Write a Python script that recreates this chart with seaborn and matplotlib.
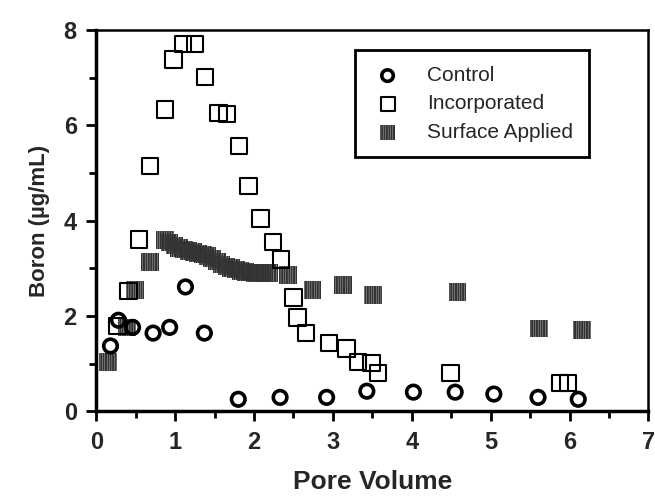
import matplotlib
matplotlib.use("Agg")
import matplotlib.pyplot as plt
import seaborn as sns
from matplotlib.ticker import MultipleLocator

# Data
control_x = [0.18, 0.28, 0.46, 0.72, 0.93, 1.13, 1.37, 1.80, 2.33, 2.92, 3.43, 4.02, 4.55, 5.04, 5.60, 6.11]
control_y = [1.37, 1.91, 1.76, 1.64, 1.76, 2.61, 1.64, 0.25, 0.29, 0.29, 0.42, 0.40, 0.40, 0.36, 0.29, 0.25]

incorporated_x = [0.27, 0.41, 0.54, 0.68, 0.87, 0.98, 1.10, 1.25, 1.38, 1.55, 1.66, 1.81, 1.93, 2.08,
                  2.24, 2.34, 2.50, 2.55, 2.66, 2.95, 3.17, 3.32, 3.49, 3.57, 4.49, 5.88, 5.98]
incorporated_y = [1.79, 2.52, 3.61, 5.15, 6.34, 7.39, 7.71, 7.71, 7.02, 6.26, 6.24, 5.57, 4.73, 4.05,
                  3.55, 3.19, 2.39, 1.97, 1.64, 1.43, 1.32, 1.03, 1.01, 0.80, 0.80, 0.59, 0.59]

surface_x = [0.15, 0.39, 0.49, 0.68,
             0.87, 0.93, 0.99, 1.05, 1.11, 1.17, 1.23, 1.29, 1.35, 1.41, 1.47, 1.53,
             1.59, 1.65, 1.71, 1.77, 1.83, 1.89, 1.95, 2.01, 2.07, 2.13, 2.19,
             2.43, 2.74, 3.13, 3.51, 4.58, 5.61, 6.16]
surface_y = [1.03, 1.76, 2.54, 3.13,
             3.59, 3.54, 3.48, 3.43, 3.40, 3.37, 3.34, 3.31, 3.29, 3.26, 3.21, 3.14,
             3.08, 3.04, 3.01, 2.98, 2.95, 2.92, 2.91, 2.90, 2.90, 2.90, 2.90,
             2.86, 2.54, 2.65, 2.44, 2.50, 1.74, 1.70]

sns.set_style("ticks")
plt.rcParams["font.family"] = ["Liberation Sans", "DejaVu Sans"]
plt.rcParams["hatch.linewidth"] = 1.5

fig = plt.figure(figsize=(6.55, 4.96), dpi=100)
ax = fig.add_axes([0.147, 0.171, 0.843, 0.768])

sns.scatterplot(x=control_x, y=control_y, ax=ax, marker="o", s=95,
                facecolor="none", edgecolor="black", linewidth=2.6, label="Control", zorder=4)
sns.scatterplot(x=incorporated_x, y=incorporated_y, ax=ax, marker="s", s=140,
                facecolor="none", edgecolor="black", linewidth=1.5, label="Incorporated", zorder=3)
sns.scatterplot(x=surface_x, y=surface_y, ax=ax, marker="s", s=160,
                facecolor="none", edgecolor="#333333", linewidth=0, hatch="|||||||",
                label="Surface Applied", zorder=2)

ax.set_xlim(0, 7)
ax.set_ylim(0, 8)
ax.xaxis.set_major_locator(MultipleLocator(1))
ax.xaxis.set_minor_locator(MultipleLocator(0.5))
ax.yaxis.set_major_locator(MultipleLocator(2))
ax.yaxis.set_minor_locator(MultipleLocator(1))
ax.tick_params(which="both", direction="out", width=2, color="black")
ax.tick_params(which="major", length=7, labelsize=17, pad=7)
ax.tick_params(which="minor", length=5)
for lab in ax.get_xticklabels() + ax.get_yticklabels():
    lab.set_fontweight("bold")

for side in ["left", "bottom"]:
    ax.spines[side].set_linewidth(2.5)
for side in ["top", "right"]:
    ax.spines[side].set_linewidth(1.8)
for sp in ax.spines.values():
    sp.set_color("black")

ax.set_xlabel("Pore Volume", fontsize=19, fontweight="bold", labelpad=12)
ax.set_ylabel("Boron (µg/mL)", fontsize=16, fontweight="bold", labelpad=10)

leg = ax.legend(loc="upper left", bbox_to_anchor=(0.469, 0.947), borderaxespad=0,
                fontsize=15, frameon=True, fancybox=False, edgecolor="black", framealpha=1,
                handletextpad=1.1, borderpad=0.75, labelspacing=0.45, markerscale=0.85,
                handlelength=1.6)
leg.get_frame().set_linewidth(2)

fig.savefig("out.png", dpi=100)
